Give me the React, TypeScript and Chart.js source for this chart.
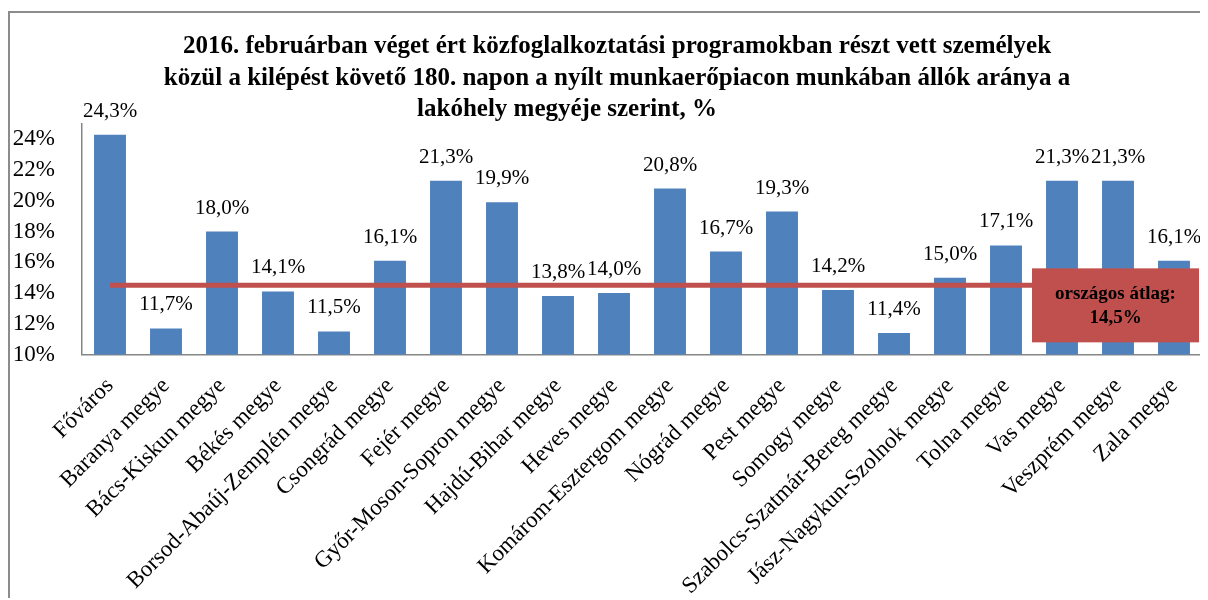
import React, { useEffect, useRef } from "react";
import { Chart, registerables } from "chart.js";

Chart.register(...registerables);

const categories = [
  "Főváros",
  "Baranya megye",
  "Bács-Kiskun megye",
  "Békés megye",
  "Borsod-Abaúj-Zemplén megye",
  "Csongrád megye",
  "Fejér megye",
  "Győr-Moson-Sopron megye",
  "Hajdú-Bihar megye",
  "Heves megye",
  "Komárom-Esztergom megye",
  "Nógrád megye",
  "Pest megye",
  "Somogy megye",
  "Szabolcs-Szatmár-Bereg megye",
  "Jász-Nagykun-Szolnok megye",
  "Tolna megye",
  "Vas megye",
  "Veszprém megye",
  "Zala megye",
];

const values = [24.3, 11.7, 18.0, 14.1, 11.5, 16.1, 21.3, 19.9, 13.8, 14.0, 20.8, 16.7, 19.3, 14.2, 11.4, 15.0, 17.1, 21.3, 21.3, 16.1];

const nationalAverage = 14.5;
const averageLabel = ["országos átlag:", "14,5%"];

const yTicks = [10, 12, 14, 16, 18, 20, 22, 24];

const titleLines = [
  "2016. februárban véget ért közfoglalkoztatási programokban részt vett személyek",
  "közül a kilépést követő 180. napon a nyílt munkaerőpiacon munkában állók aránya a",
  "lakóhely megyéje szerint, %",
];

const FONT = '"Liberation Serif", "Times New Roman", serif';

const fmt = (v: number) => v.toFixed(1).replace(".", ",") + "%";

const titlePlugin = {
  id: "multiTitle",
  afterDraw(chart: any) {
    const ctx = chart.ctx;
    ctx.save();
    ctx.font = `bold 25px ${FONT}`;
    ctx.fillStyle = "#000";
    ctx.textAlign = "center";
    ctx.textBaseline = "middle";
    const cx = 607;
    titleLines.forEach((line, i) => {
      const x = i === titleLines.length - 1 ? cx - 50 : cx;
      ctx.fillText(line, x, 34 + i * 31.5);
    });
    ctx.restore();
  },
};

const valueLabelPlugin = {
  id: "valueLabels",
  afterDatasetsDraw(chart: any) {
    const ctx = chart.ctx;
    const meta = chart.getDatasetMeta(1);
    ctx.save();
    ctx.font = `21px ${FONT}`;
    ctx.fillStyle = "#000";
    ctx.textAlign = "center";
    ctx.textBaseline = "alphabetic";
    meta.data.forEach((el: any, i: number) => {
      ctx.fillText(fmt(values[i]), el.x, el.y - 18);
    });
    ctx.restore();
  },
};

const averageBoxPlugin = {
  id: "averageBox",
  afterDatasetsDraw(chart: any) {
    const ctx = chart.ctx;
    const area = chart.chartArea;
    const yScale = chart.scales.y;
    const w = 167;
    const h = 74;
    const right = area.right - 3;
    const top = yScale.getPixelForValue(nationalAverage) - 17;
    const left = right - w;
    ctx.save();
    ctx.fillStyle = "#C0504D";
    ctx.fillRect(left, top, w, h);
    ctx.fillStyle = "#000";
    ctx.font = `bold 19px ${FONT}`;
    ctx.textAlign = "center";
    ctx.textBaseline = "middle";
    ctx.fillText(averageLabel[0], left + w / 2, top + 26);
    ctx.fillText(averageLabel[1], left + w / 2, top + 50);
    ctx.restore();
  },
};

export default function App() {
  const ref = useRef<HTMLCanvasElement>(null);

  useEffect(() => {
    document.documentElement.style.overflow = "hidden";
    document.body.style.overflow = "hidden";
    if (!ref.current) return;
    const chart = new Chart(ref.current, {
      type: "bar",
      data: {
        labels: categories,
        datasets: [
          {
            type: "line",
            label: "országos átlag",
            data: categories.map(() => nationalAverage),
            borderColor: "#C0504D",
            borderWidth: 5,
            pointRadius: 0,
            fill: false,
            order: 0,
          } as any,
          {
            type: "bar",
            label: "arány",
            data: values,
            backgroundColor: "#4F81BD",
            barPercentage: 0.57,
            categoryPercentage: 1,
            order: 1,
          },
        ],
      },
      options: {
        responsive: false,
        animation: false,
        layout: { padding: { left: 0, right: 0, top: 111, bottom: 0 } },
        plugins: {
          legend: { display: false },
          tooltip: { enabled: false },
          title: { display: false },
        },
        scales: {
          x: {
            grid: { display: false, drawTicks: false },
            border: { display: true, color: "#868686", width: 1.5 },
            ticks: {
              color: "#000",
              font: { family: FONT, size: 23 },
              minRotation: 45,
              maxRotation: 45,
              autoSkip: false,
              padding: 18,
              labelOffset: 0,
            },
            afterFit(scale: any) {
              scale.height = 258.5;
              scale.paddingRight = 0;
              scale.paddingLeft = 0;
            },
          },
          y: {
            min: 10,
            max: 25,
            grid: { display: false, drawTicks: false },
            border: { display: true, color: "#868686", width: 1.5 },
            ticks: {
              stepSize: 2,
              color: "#000",
              font: { family: FONT, size: 23 },
              padding: 27,
              callback: (v: any) => v + "%",
            },
            afterBuildTicks(scale: any) {
              scale.ticks = yTicks.map((v) => ({ value: v }));
            },
            afterFit(scale: any) {
              scale.width = 72;
              scale.paddingTop = 0;
              scale.paddingBottom = 0;
            },
          },
        },
      },
      plugins: [valueLabelPlugin, averageBoxPlugin, titlePlugin],
    });
    return () => chart.destroy();
  }, []);

  return (
    <div
      style={{
        marginTop: 3,
        borderTop: "2px solid #8c8c8c",
        borderLeft: "2px solid #8c8c8c",
        width: 1198,
        height: 585,
        overflow: "hidden",
      }}
    >
      <canvas ref={ref} width={1192} height={600} style={{ display: "block" }} />
    </div>
  );
}
